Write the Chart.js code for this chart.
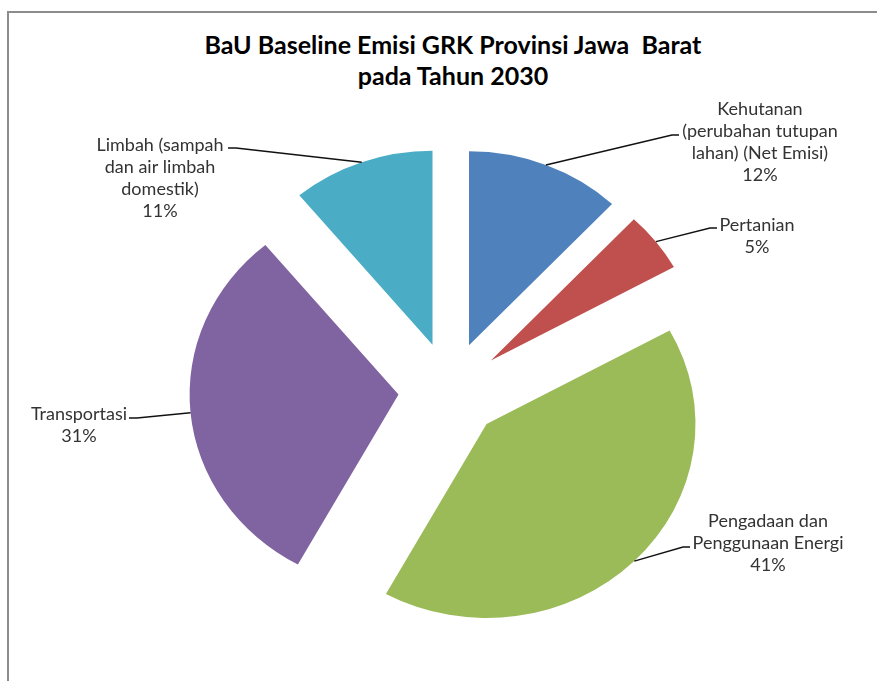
<!DOCTYPE html>
<html>
<head>
<meta charset="utf-8">
<title>BaU Baseline Emisi GRK Provinsi Jawa Barat</title>
<script src="https://cdn.jsdelivr.net/npm/chart.js@4.4.0/dist/chart.umd.min.js"></script>
<style>
  html, body { margin: 0; padding: 0; background: #fff; }
  body { width: 877px; height: 681px; position: relative; overflow: hidden; font-family: Lato, "Open Sans", sans-serif; }
  .frame {
    position: absolute; left: 7px; top: 11px; right: -10px; bottom: -10px;
    border-left: 2px solid #8c8c8c; border-top: 2px solid #8c8c8c;
  }
  .title {
    position: absolute; left: 0; top: 29px; width: 906px;
    text-align: center; font-weight: bold; font-size: 25px; line-height: 31px;
    color: #000; white-space: pre;
  }
  #emisiChart { position: absolute; left: 0; top: 0; }
</style>
</head>
<body>
<div class="frame"></div>
<div class="title">BaU Baseline Emisi GRK Provinsi Jawa  Barat
pada Tahun 2030</div>
<canvas id="emisiChart" width="877" height="681"></canvas>
<script>
const categories = [
    ['Kehutanan', '(perubahan tutupan', 'lahan) (Net Emisi)'],
    ['Pertanian'],
    ['Pengadaan dan', 'Penggunaan Energi'],
    ['Transportasi'],
    ['Limbah (sampah', 'dan air limbah', 'domestik)']
];
const shares = [12, 5, 41, 31, 11];
const sliceColors = ['#4F81BD', '#C0504D', '#9BBB59', '#8064A2', '#4BACC6'];

// text placement for each slice label: centre x, first line y, leader end, stub direction
const labelSpots = [
    { x: 760, y: 109, endX: 672, endY: 135, stub: 7 },
    { x: 757, y: 225, endX: 710, endY: 228, stub: 7 },
    { x: 768, y: 521, endX: 683, endY: 547, stub: 7 },
    { x: 79, y: 414, endX: 137, endY: 418, stub: -8 },
    { x: 160, y: 145, endX: 236, endY: 148, stub: -8 }
];

const EXPLODE = 48;
const STRETCH_X = 1.077;
const LINE_HEIGHT = 22;

// Draw the arcs ourselves: each one pulled out the same distance along its
// bisector, and the whole pie widened a little into an ellipse.
const explodedPie = {
    id: 'explodedPie',
    beforeDatasetsDraw(chart) {
        const meta = chart.getDatasetMeta(0);
        const ctx = chart.ctx;
        const cx = meta.data[0].x;
        ctx.save();
        ctx.translate(cx, 0);
        ctx.scale(STRETCH_X, 1);
        ctx.translate(-cx, 0);
        meta.data.forEach(arc => {
            const mid = (arc.startAngle + arc.endAngle) / 2;
            ctx.save();
            ctx.translate(Math.cos(mid) * EXPLODE, Math.sin(mid) * EXPLODE);
            arc.draw(ctx);
            ctx.restore();
        });
        ctx.restore();
        return false;
    }
};

const labelPlugin = {
    id: 'sliceLabels',
    afterDraw(chart) {
        const ctx = chart.ctx;
        const meta = chart.getDatasetMeta(0);
        ctx.save();
        meta.data.forEach((arc, i) => {
            const spot = labelSpots[i];
            const mid = (arc.startAngle + arc.endAngle) / 2;
            const r = arc.outerRadius + EXPLODE;
            const ax = arc.x + Math.cos(mid) * r * STRETCH_X;
            const ay = arc.y + Math.sin(mid) * r;

            ctx.strokeStyle = '#111';
            ctx.lineWidth = 1.4;
            ctx.beginPath();
            ctx.moveTo(ax, ay);
            ctx.lineTo(spot.endX, spot.endY);
            ctx.lineTo(spot.endX + spot.stub, spot.endY);
            ctx.stroke();

            const lines = chart.data.labels[i].concat(shares[i] + '%');
            ctx.fillStyle = '#333';
            ctx.font = '18px Lato, "Open Sans", sans-serif';
            ctx.textAlign = 'center';
            ctx.textBaseline = 'middle';
            lines.forEach((line, k) => {
                ctx.fillText(line, spot.x, spot.y + k * LINE_HEIGHT);
            });
        });
        ctx.restore();
    }
};

new Chart(document.getElementById('emisiChart'), {
    type: 'pie',
    data: {
        labels: categories,
        datasets: [
            {
                data: shares,
                backgroundColor: sliceColors,
                borderWidth: 0,
                offset: 0,
                hoverOffset: 0,
                clip: false
            }
        ]
    },
    options: {
        responsive: false,
        devicePixelRatio: 1,
        animation: false,
        radius: 194,
        layout: { padding: { left: 23, top: 99, right: 0, bottom: 0 } },
        plugins: {
            legend: { display: false },
            tooltip: { enabled: false },
            title: { display: false }
        }
    },
    plugins: [explodedPie, labelPlugin]
});
</script>
</body>
</html>
